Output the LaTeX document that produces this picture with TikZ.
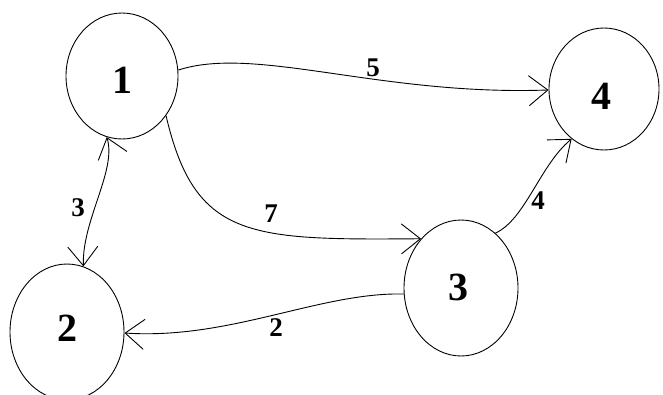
\documentclass[tikz,border=0pt]{standalone}
\usepackage{fontspec}
\setmainfont{Liberation Serif}
\usetikzlibrary{arrows.meta,shapes.geometric}
\begin{document}
\begin{tikzpicture}[x=1pt,y=-1pt,
  state/.style={draw,ellipse,line width=0.9pt,inner sep=0pt,font=\fontsize{40}{40}\selectfont\bfseries},
  elabel/.style={inner sep=0pt,font=\fontsize{27}{27}\selectfont\bfseries},
  edge/.style={line width=0.9pt,-{Straight Barb[length=19pt,width=30pt,line width=0.9pt]}},
  bedge/.style={line width=0.9pt,{Straight Barb[length=19pt,width=30pt,line width=0.9pt]}-{Straight Barb[length=19pt,width=30pt,line width=0.9pt]}}]
\useasboundingbox (0,0) rectangle (663,394);
\fill[white] (0,0) rectangle (663,394);
\begin{scope}
\clip (0,0) rectangle (663,394);
\node[state,minimum width=112pt,minimum height=126pt] (n1) at (122,76) {};
\node[state,minimum width=110pt,minimum height=122pt] (n4) at (604,89) {};
\node[state,minimum width=114pt,minimum height=136pt] (n3) at (461,288) {};
\node[state,minimum width=114pt,minimum height=136pt] (n2) at (67,332) {};
\end{scope}
\node[state,draw=none] (t1) at (122,80) {1};
\node[state,draw=none] (t4) at (601,96) {4};
\node[state,draw=none] (t3) at (458,287) {3};
\node[state,draw=none] (t2) at (67,328) {2};
\draw[edge] (n1.6) .. controls (255,45) and (380,96) .. (n4.181);
\draw[edge] (n1.-42) .. controls (195,240) and (250,240) .. (n3.129);
\draw[edge] (n3.58) .. controls (525,220) and (540,165) .. (n4.237);
\draw[edge] (n3.186) .. controls (320,292) and (230,340) .. (n2.-1);
\draw[bedge] (n1.-104) .. controls (117,170) and (82,220) .. (n2.76);
\node[elabel] (l5) at (373,68) {5};
\node[elabel] (l7) at (271,214) {7};
\node[elabel] (l4) at (538,201) {4};
\node[elabel] (l2) at (276,328) {2};
\node[elabel] (l3) at (78,208) {3};
\end{tikzpicture}
\end{document}
